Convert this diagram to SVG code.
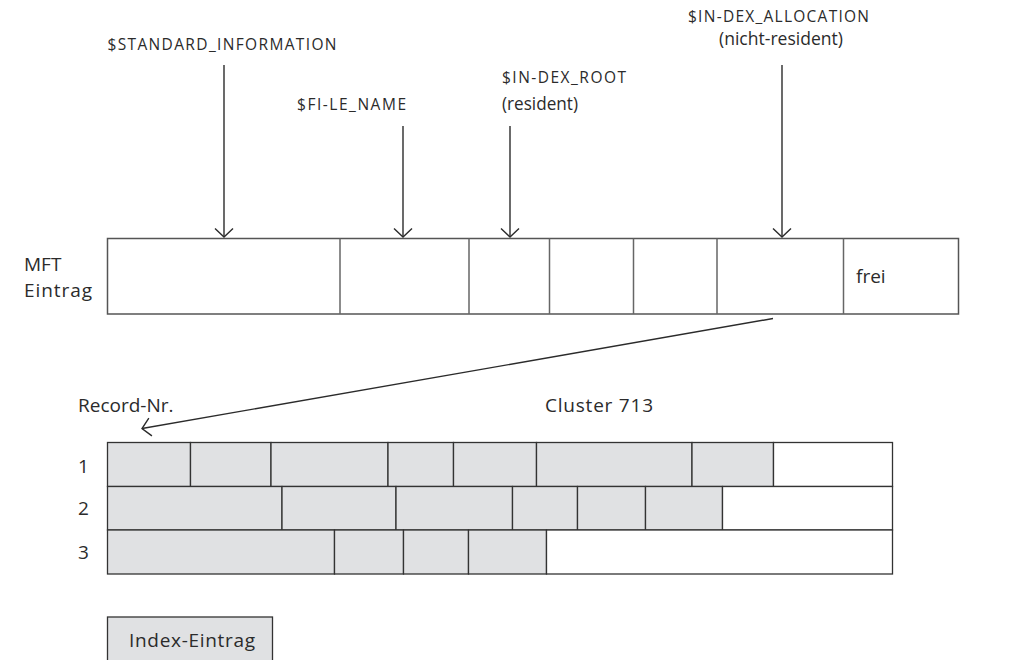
<svg xmlns="http://www.w3.org/2000/svg" width="1019" height="660" viewBox="0 0 1019 660">
<defs>
<style>
text{font-family:"Open Sans","Noto Sans","DejaVu Sans",sans-serif;fill:#2b2b2b}
.t{font-size:19px}
.cap{font-size:15.5px}
.ln{stroke:#2b2b2b;stroke-width:1.4;fill:none}
.mft{fill:#fff;stroke:#555;stroke-width:1.5}
.div{stroke:#666;stroke-width:1.5}
.g{fill:#e0e1e3;stroke:#333;stroke-width:1.3}
.w{fill:#fff;stroke:#333;stroke-width:1.3}
</style>
<marker id="ah" markerUnits="userSpaceOnUse" markerWidth="20" markerHeight="20" refX="0" refY="0" orient="auto" overflow="visible">
<path d="M-8.5,-9 L0,0 L-8.5,9" fill="none" stroke="#2b2b2b" stroke-width="1.4"/>
</marker>
</defs>
<rect width="1019" height="660" fill="#fff"/>

<g id="labels">
<text class="cap" x="107.5" y="50" textLength="229" lengthAdjust="spacing">$STANDARD_INFORMATION</text>
<text class="cap" x="297" y="110" textLength="109" lengthAdjust="spacing">$FI-LE_NAME</text>
<text class="cap" x="502" y="83" textLength="124" lengthAdjust="spacing">$IN-DEX_ROOT</text>
<text class="t" x="502" y="110" textLength="76" lengthAdjust="spacingAndGlyphs">(resident)</text>
<text class="cap" x="688" y="22" textLength="181" lengthAdjust="spacing">$IN-DEX_ALLOCATION</text>
<text class="t" x="719" y="45" textLength="124" lengthAdjust="spacingAndGlyphs">(nicht-resident)</text>
</g>

<g id="mft-eintrag">
<text class="t" x="24" y="271">MFT</text>
<text class="t" x="24" y="297" textLength="68" lengthAdjust="spacing">Eintrag</text>
<rect class="mft" x="107.5" y="238.5" width="851" height="75.5"/>
<line class="div" x1="340" y1="238.5" x2="340" y2="314"/>
<line class="div" x1="469" y1="238.5" x2="469" y2="314"/>
<line class="div" x1="549.5" y1="238.5" x2="549.5" y2="314"/>
<line class="div" x1="633.5" y1="238.5" x2="633.5" y2="314"/>
<line class="div" x1="717" y1="238.5" x2="717" y2="314"/>
<line class="div" x1="843.5" y1="238.5" x2="843.5" y2="314"/>
<text class="t" x="856" y="283">frei</text>
</g>

<g id="connectors">
<line class="ln" x1="224" y1="65" x2="224" y2="237" marker-end="url(#ah)"/>
<line class="ln" x1="403" y1="126" x2="403" y2="237" marker-end="url(#ah)"/>
<line class="ln" x1="510" y1="126" x2="510" y2="237" marker-end="url(#ah)"/>
<line class="ln" x1="782" y1="65" x2="782" y2="237" marker-end="url(#ah)"/>
<line class="ln" x1="773" y1="318.5" x2="142" y2="428.5" marker-end="url(#ah)"/>
</g>

<g id="cluster-713">
<text class="t" x="78" y="412">Record-Nr.</text>
<text class="t" x="545" y="412" textLength="108" lengthAdjust="spacing">Cluster 713</text>
</g>

<g id="record-1">
<text class="t" x="78" y="473">1</text>
<rect class="g" x="107.5" y="442.5" width="83" height="44"/>
<rect class="g" x="190.5" y="442.5" width="80.5" height="44"/>
<rect class="g" x="271" y="442.5" width="117" height="44"/>
<rect class="g" x="388" y="442.5" width="65.5" height="44"/>
<rect class="g" x="453.5" y="442.5" width="83" height="44"/>
<rect class="g" x="536.5" y="442.5" width="155.5" height="44"/>
<rect class="g" x="692" y="442.5" width="81.5" height="44"/>
<rect class="w" x="773.5" y="442.5" width="119" height="44"/>
</g>

<g id="record-2">
<text class="t" x="78" y="515">2</text>
<rect class="g" x="107.5" y="486.5" width="174.5" height="43.5"/>
<rect class="g" x="282" y="486.5" width="114" height="43.5"/>
<rect class="g" x="396" y="486.5" width="116.5" height="43.5"/>
<rect class="g" x="512.5" y="486.5" width="65" height="43.5"/>
<rect class="g" x="577.5" y="486.5" width="68" height="43.5"/>
<rect class="g" x="645.5" y="486.5" width="77" height="43.5"/>
<rect class="w" x="722.5" y="486.5" width="170" height="43.5"/>
</g>

<g id="record-3">
<text class="t" x="78" y="559">3</text>
<rect class="g" x="107.5" y="530" width="227" height="44"/>
<rect class="g" x="334.5" y="530" width="69" height="44"/>
<rect class="g" x="403.5" y="530" width="65" height="44"/>
<rect class="g" x="468.5" y="530" width="78" height="44"/>
<rect class="w" x="546.5" y="530" width="346" height="44"/>
</g>

<g id="legend-index-eintrag">
<rect class="g" x="107.5" y="617" width="165" height="50"/>
<text class="t" x="129" y="647" textLength="126" lengthAdjust="spacing">Index-Eintrag</text>
</g>
</svg>
